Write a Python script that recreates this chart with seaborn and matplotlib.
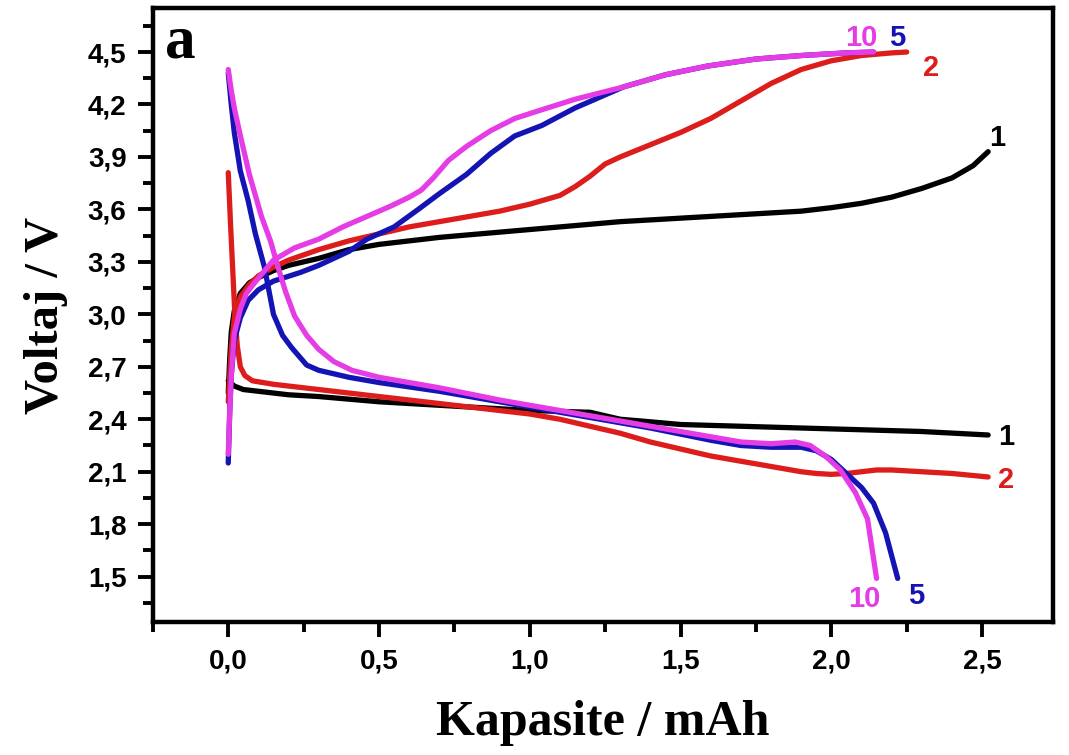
import numpy as np
import pandas as pd
import matplotlib
matplotlib.use("Agg")
import matplotlib.pyplot as plt
import seaborn as sns
from matplotlib.ticker import FuncFormatter

# cycle 1 (black)
c1_charge_x = [0, 0.005, 0.01, 0.02, 0.04, 0.07, 0.1, 0.15, 0.2, 0.3, 0.4, 0.5, 0.7, 0.9, 1.1, 1.3,
               1.5, 1.7, 1.9, 2.0, 2.1, 2.2, 2.3, 2.4, 2.47, 2.52]
c1_charge_y = [2.55, 2.75, 2.9, 3.02, 3.12, 3.18, 3.21, 3.25, 3.28, 3.32, 3.37, 3.40, 3.44, 3.47, 3.50, 3.53,
               3.55, 3.57, 3.59, 3.61, 3.635, 3.67, 3.72, 3.78, 3.85, 3.93]
c1_dis_x = [0, 0.02, 0.05, 0.1, 0.2, 0.3, 0.5, 0.7, 0.9, 1.0, 1.1, 1.2, 1.25, 1.3, 1.37, 1.5, 1.7, 1.9,
            2.1, 2.3, 2.52]
c1_dis_y = [2.62, 2.59, 2.57, 2.56, 2.54, 2.53, 2.50, 2.48, 2.46, 2.45, 2.445, 2.44, 2.42, 2.40, 2.39, 2.37,
            2.36, 2.35, 2.34, 2.33, 2.31]

# cycle 2 (red)
c2_charge_x = [0, 0.01, 0.02, 0.04, 0.07, 0.1, 0.15, 0.2, 0.3, 0.4, 0.5, 0.6, 0.7, 0.8, 0.9, 1.0, 1.1,
               1.15, 1.2, 1.25, 1.3, 1.4, 1.5, 1.6, 1.7, 1.8, 1.9, 2.0, 2.1, 2.2, 2.25]
c2_charge_y = [2.5, 2.8, 2.98, 3.1, 3.17, 3.22, 3.27, 3.31, 3.37, 3.42, 3.46, 3.50, 3.53, 3.56, 3.59, 3.63,
               3.68, 3.73, 3.79, 3.86, 3.9, 3.97, 4.04, 4.12, 4.22, 4.32, 4.40, 4.45, 4.48, 4.495, 4.5]
c2_dis_x = [0, 0.008, 0.015, 0.022, 0.03, 0.04, 0.055, 0.08, 0.15, 0.2, 0.3, 0.5, 0.7, 0.9, 1.0, 1.1,
            1.2, 1.3, 1.4, 1.5, 1.6, 1.7, 1.8, 1.9, 1.95, 2.0, 2.05, 2.1, 2.15, 2.2, 2.3, 2.4, 2.52]
c2_dis_y = [3.81, 3.5, 3.25, 3.0, 2.82, 2.7, 2.65, 2.62, 2.60, 2.59, 2.57, 2.53, 2.49, 2.45, 2.43, 2.40,
            2.36, 2.32, 2.27, 2.23, 2.19, 2.16, 2.13, 2.10, 2.09, 2.085, 2.09, 2.10, 2.11, 2.11, 2.10,
            2.09, 2.07]

# cycle 5 (blue)
c5_charge_x = [0, 0.005, 0.01, 0.02, 0.04, 0.066, 0.1, 0.15, 0.24, 0.3, 0.4, 0.46, 0.55, 0.63, 0.7,
               0.79, 0.87, 0.95, 1.04, 1.15, 1.31, 1.45, 1.59, 1.75, 1.9, 2.05, 2.14]
c5_charge_y = [2.15, 2.45, 2.65, 2.85, 2.98, 3.08, 3.14, 3.19, 3.24, 3.28, 3.36, 3.43, 3.50, 3.60, 3.69,
               3.80, 3.92, 4.02, 4.08, 4.18, 4.3, 4.37, 4.42, 4.46, 4.48, 4.495, 4.5]
c5_dis_x = [0, 0.01, 0.02, 0.04, 0.066, 0.09, 0.12, 0.15, 0.18, 0.21, 0.26, 0.3, 0.4, 0.5, 0.7, 0.9,
            1.0, 1.2, 1.4, 1.6, 1.7, 1.8, 1.9, 1.95, 2.0, 2.05, 2.1, 2.14, 2.18, 2.22]
c5_dis_y = [4.38, 4.2, 4.04, 3.82, 3.65, 3.46, 3.27, 3.0, 2.88, 2.81, 2.71, 2.68, 2.64, 2.61, 2.56, 2.50,
            2.47, 2.41, 2.35, 2.28, 2.25, 2.24, 2.24, 2.22, 2.17, 2.09, 2.01, 1.92, 1.75, 1.49]

# cycle 10 (magenta)
c10_charge_x = [0, 0.005, 0.01, 0.02, 0.04, 0.06, 0.087, 0.15, 0.22, 0.3, 0.38, 0.46, 0.54, 0.6, 0.64,
                0.68, 0.73, 0.79, 0.87, 0.95, 1.04, 1.15, 1.31, 1.45, 1.59, 1.75, 1.9, 2.05, 2.14]
c10_charge_y = [2.2, 2.45, 2.65, 2.89, 3.03, 3.12, 3.18, 3.31, 3.38, 3.43, 3.50, 3.56, 3.62, 3.67, 3.71,
                3.78, 3.88, 3.96, 4.05, 4.12, 4.17, 4.23, 4.3, 4.37, 4.42, 4.46, 4.48, 4.495, 4.5]
c10_dis_x = [0, 0.01, 0.02, 0.043, 0.07, 0.11, 0.14, 0.165, 0.19, 0.22, 0.26, 0.3, 0.35, 0.41, 0.5,
             0.7, 0.9, 1.0, 1.2, 1.4, 1.6, 1.7, 1.8, 1.88, 1.93, 1.98, 2.03, 2.08, 2.12, 2.15]
c10_dis_y = [4.4, 4.28, 4.18, 4.0, 3.8, 3.56, 3.42, 3.27, 3.13, 2.99, 2.88, 2.80, 2.73, 2.68, 2.64,
             2.58, 2.51, 2.48, 2.42, 2.36, 2.30, 2.27, 2.26, 2.27, 2.25, 2.19, 2.11, 1.98, 1.83, 1.49]

colors = {"1": "#000000", "2": "#dd1c1c", "5": "#1414b4", "10": "#e63ce6"}

curves = [
    ("1", c1_charge_x, c1_charge_y), ("1", c1_dis_x, c1_dis_y),
    ("2", c2_charge_x, c2_charge_y), ("2", c2_dis_x, c2_dis_y),
    ("5", c5_charge_x, c5_charge_y), ("5", c5_dis_x, c5_dis_y),
    ("10", c10_charge_x, c10_charge_y), ("10", c10_dis_x, c10_dis_y),
]

# cycle numbers written next to the curve ends
label_text = ["10", "5", "2", "1", "1", "2", "10", "5"]
label_x = [2.10, 2.22, 2.33, 2.55, 2.58, 2.58, 2.11, 2.28]
label_y = [4.58, 4.58, 4.41, 4.01, 2.30, 2.05, 1.37, 1.39]

sns.set_style("ticks")
plt.rcParams["font.family"] = ["Liberation Sans", "DejaVu Sans"]
plt.rcParams["text.color"] = "black"
plt.rcParams["axes.labelcolor"] = "black"
plt.rcParams["xtick.color"] = "black"
plt.rcParams["ytick.color"] = "black"

fig = plt.figure(figsize=(10.69, 7.55), dpi=100)
ax = fig.add_axes([0.143, 0.176, 0.842, 0.813])

for cyc, xs, ys in curves:
    sns.lineplot(x=xs, y=ys, sort=False, color=colors[cyc], linewidth=3.8, ax=ax)

for t, lx, ly in zip(label_text, label_x, label_y):
    ax.text(lx, ly, t, color=colors[t], fontsize=21, fontweight="bold",
            ha="center", va="center")

ax.text(0.013, 0.99, "a", transform=ax.transAxes, fontsize=44, fontweight="bold",
        family="Liberation Serif", ha="left", va="top")

ax.set_xlim(-0.25, 2.735)
ax.set_ylim(1.24, 4.75)
ax.set_xticks(np.arange(0, 2.51, 0.5))
ax.set_xticks(np.arange(-0.25, 2.74, 0.5), minor=True)
ax.set_yticks(np.arange(1.5, 4.51, 0.3))
ax.set_yticks(np.arange(1.35, 4.70, 0.3), minor=True)

comma = FuncFormatter(lambda v, p: f"{v:.1f}".replace(".", ","))
ax.xaxis.set_major_formatter(comma)
ax.yaxis.set_major_formatter(comma)

ax.tick_params(which="major", direction="out", length=11, width=2.8,
               labelsize=20, pad=8, top=False, right=False, colors="black")
ax.tick_params(which="minor", direction="out", length=7, width=2.8, top=False, right=False,
               colors="black")
for lab in ax.get_xticklabels() + ax.get_yticklabels():
    lab.set_fontweight("bold")

for s in ax.spines.values():
    s.set_linewidth(3.2)
    s.set_color("black")

ax.set_xlabel("Kapasite / mAh", fontsize=36, fontweight="bold", family="Liberation Serif",
              labelpad=18)
ax.set_ylabel("Voltaj / V", fontsize=35, fontweight="bold", family="Liberation Serif",
              labelpad=14)

fig.savefig("out.png", dpi=100)
